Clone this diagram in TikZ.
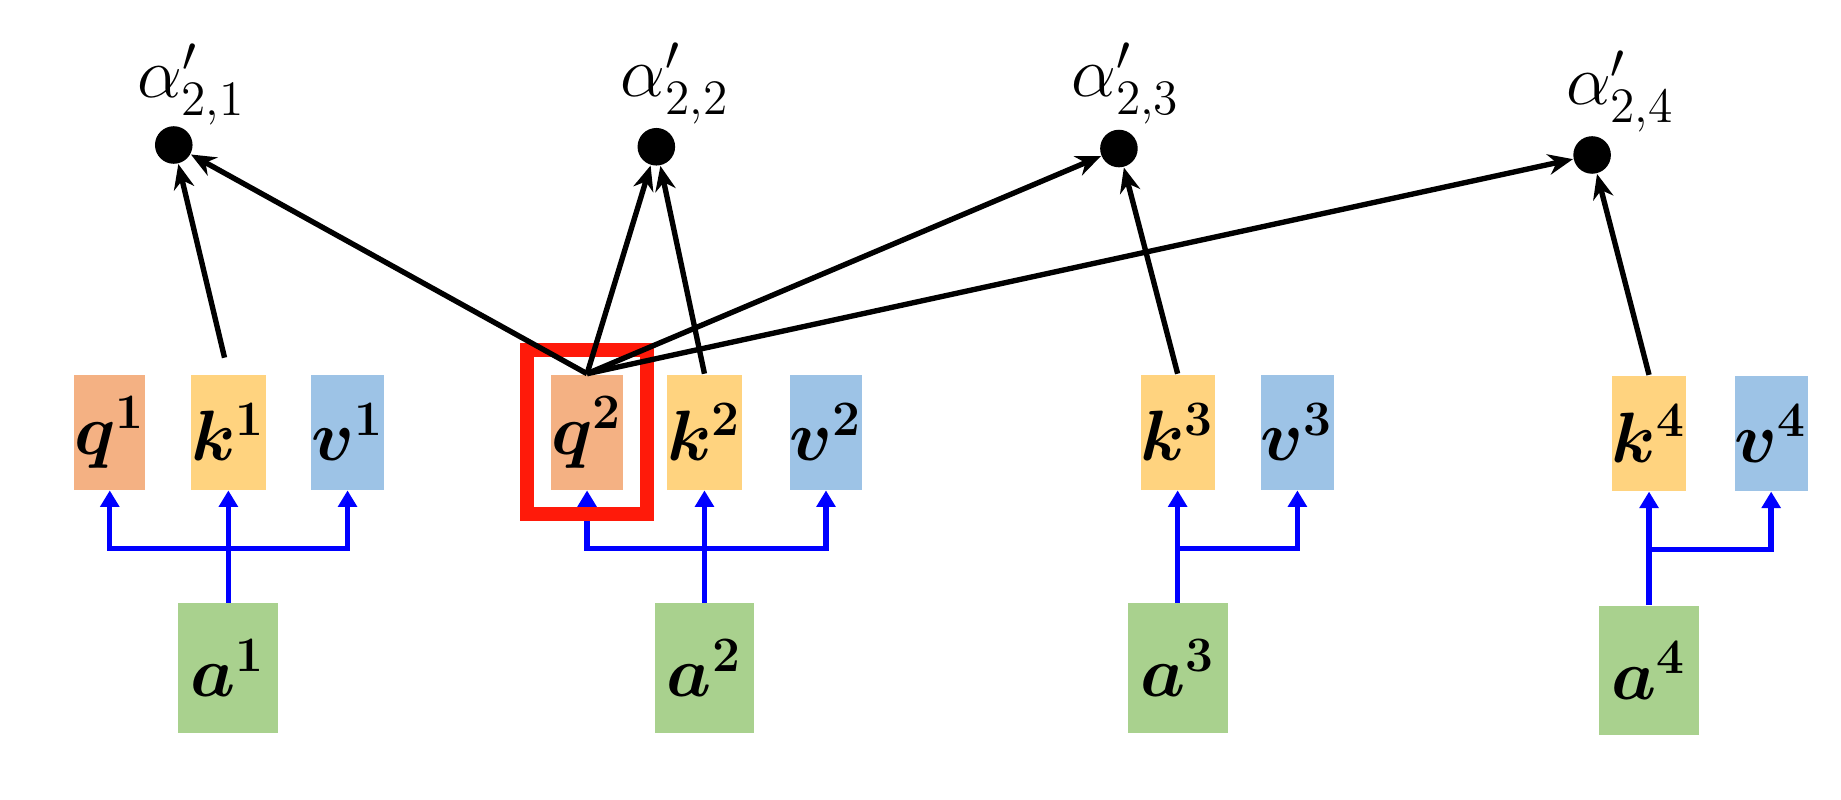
\documentclass[tikz,border=0pt]{standalone}
\usepackage{amsmath,amssymb}
\usepackage{tikz}
\usetikzlibrary{arrows.meta,positioning,fit}
\definecolor{qcol}{HTML}{F4B183}
\definecolor{kcol}{HTML}{FFD37F}
\definecolor{vcol}{HTML}{9DC3E6}
\definecolor{acol}{HTML}{A9D18E}
\definecolor{framered}{HTML}{FF1A0A}

\begin{document}
\begin{tikzpicture}[
  vec/.style={minimum width=0.54cm, minimum height=0.98cm, inner sep=0pt,
    font=\fontsize{17}{20}\selectfont\boldmath},
  inp/.style={minimum width=0.85cm, minimum height=1.10cm, inner sep=0pt, fill=acol,
    font=\fontsize{18}{21}\selectfont\boldmath},
  score/.style={circle, fill=black, minimum size=0.32cm, inner sep=0pt},
  scorelbl/.style={font=\fontsize{17}{20}\selectfont, inner sep=0pt},
  feed/.style={blue, line width=1.3pt},
  tip/.style={-{Triangle[length=4pt,width=4.5pt]}},
  attn/.style={-{Stealth[length=6pt,width=5pt]}, line width=1.3pt},
  redframe/.style={draw=framered, line width=3.4pt, inner sep=0.2cm},
]
\useasboundingbox (0,0) rectangle (15.68,6.81);

% inputs
\node[inp] (a1) at (1.945,1.12) {$a^1$};
\node[inp] (a2) at (6.00,1.12)  {$a^2$};
\node[inp] (a3) at (10.03,1.12) {$a^3$};
\node[inp] (a4) at (14.045,1.10) {$a^4$};

% q, k, v
\node[vec, fill=qcol] (q1) at (0.935,3.13) {$q^1$};
\node[vec, fill=kcol] (k1) at (1.945,3.13) {$k^1$};
\node[vec, fill=vcol] (v1) at (2.96,3.13)  {$v^1$};
\node[vec, fill=qcol] (q2) at (5.00,3.13)  {$q^2$};
\node[vec, fill=kcol] (k2) at (6.00,3.13)  {$k^2$};
\node[vec, fill=vcol] (v2) at (7.035,3.13) {$v^2$};
\node[vec, fill=kcol] (k3) at (10.03,3.13) {$k^3$};
\node[vec, fill=vcol] (v3) at (11.05,3.13) {$v^3$};
\node[vec, fill=kcol] (k4) at (14.045,3.12) {$k^4$};
\node[vec, fill=vcol] (v4) at (15.085,3.12) {$v^4$};

% branching of each input
\coordinate (b1) at (1.945,2.14);
\coordinate (b2) at (6.00,2.14);
\coordinate (b3) at (10.03,2.14);
\coordinate (b4) at (14.045,2.13);
\draw[feed,{Triangle[length=4pt,width=4.5pt]}-{Triangle[length=4pt,width=4.5pt]}]
  (q1.south) -- (q1.south |- b1) -- (v1.south |- b1) -- (v1.south);
\draw[feed,tip] (a1.north) -- (k1.south);
\draw[feed,{Triangle[length=4pt,width=4.5pt]}-{Triangle[length=4pt,width=4.5pt]}]
  (q2.south) -- (q2.south |- b2) -- (v2.south |- b2) -- (v2.south);
\draw[feed,tip] (a2.north) -- (k2.south);
\draw[feed,tip] (a3.north) -- (k3.south);
\draw[feed,tip] (b3) -- (v3.south |- b3) -- (v3.south);
\draw[feed,tip] (a4.north) -- (k4.south);
\draw[feed,tip] (b4) -- (v4.south |- b4) -- (v4.south);

% query in focus
\node[redframe, fit=(q2)] (focus) {};

% attention scores
\node[score] (s1) at (1.48,5.575) {};
\node[score] (s2) at (5.59,5.56)  {};
\node[score] (s3) at (9.53,5.545) {};
\node[score] (s4) at (13.56,5.49) {};
\node[scorelbl] (l1) at (1.63,6.09) {$\alpha'_{2,1}$};
\node[scorelbl] (l2) at (5.75,6.10) {$\alpha'_{2,2}$};
\node[scorelbl] (l3) at (9.59,6.10) {$\alpha'_{2,3}$};
\node[scorelbl] (l4) at (13.80,6.03) {$\alpha'_{2,4}$};

\foreach \s in {s1,s2,s3,s4}
  \draw[attn] (q2.north) -- (\s);
\draw[attn, shorten <=4pt] (k1.north) -- (s1);
\draw[attn] (k2.north) -- (s2);
\draw[attn] (k3.north) -- (s3);
\draw[attn] (k4.north) -- (s4);
\end{tikzpicture}
\end{document}
